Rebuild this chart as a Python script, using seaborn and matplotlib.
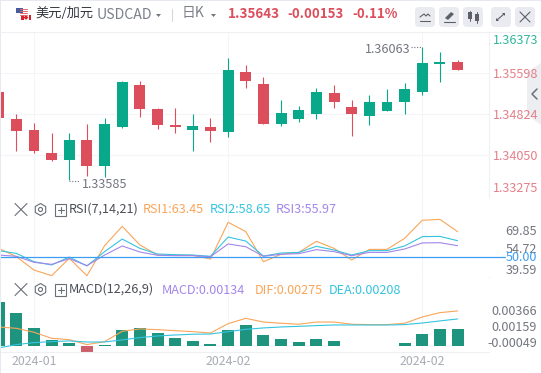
import matplotlib
matplotlib.use('Agg')
import matplotlib.pyplot as plt
import seaborn as sns
import pandas as pd
from matplotlib.patches import FancyBboxPatch, Rectangle, Polygon, RegularPolygon

# Daily USD/CAD candles
opens = [1.35246, 1.34736, 1.34528, 1.34094, 1.33962, 1.34339, 1.33849, 1.34585, 1.35378, 1.34925, 1.34623,
         1.34528, 1.34585, 1.34490, 1.35623, 1.35397, 1.34641, 1.34736, 1.34830, 1.35227, 1.34962, 1.34792,
         1.34887, 1.35057, 1.35246, 1.35780, 1.35812]
closes = [1.34755, 1.34509, 1.34132, 1.33962, 1.34339, 1.33849, 1.34641, 1.35434, 1.34925, 1.34623, 1.34585,
          1.34604, 1.34509, 1.35661, 1.35453, 1.34641, 1.34849, 1.34906, 1.35246, 1.35057, 1.34830, 1.35057,
          1.35057, 1.35302, 1.35793, 1.35812, 1.35661]
highs = [1.35300, 1.34830, 1.34660, 1.34472, 1.34472, 1.34641, 1.34755, 1.35453, 1.35453, 1.34944, 1.34944,
         1.34830, 1.34755, 1.35887, 1.35755, 1.35529, 1.35095, 1.34981, 1.35321, 1.35378, 1.35095, 1.35189,
         1.35302, 1.35416, 1.36090, 1.36001, 1.35850]
lows = [1.34700, 1.34132, 1.34094, 1.33943, 1.33585, 1.33660, 1.33641, 1.34566, 1.34774, 1.34547, 1.34472,
        1.34132, 1.34302, 1.34396, 1.35321, 1.34641, 1.34604, 1.34679, 1.34736, 1.34944, 1.34415, 1.34623,
        1.34887, 1.34830, 1.35189, 1.35434, 1.35661]

rsi1 = [56.6, 50.0, 39.4, 34.9, 48.7, 34.9, 58.7, 74.1, 59.3, 51.3, 51.1, 51.1, 48.1, 77.3, 69.9, 46.0, 51.9, 53.4,
        62.2, 56.6, 47.4, 55.8, 55.8, 64.6, 78.9, 79.6, 69.9]
rsi2 = [54.8, 52.6, 46.0, 43.4, 49.7, 42.6, 54.0, 64.0, 56.6, 52.1, 51.6, 51.3, 50.3, 65.6, 62.4, 50.5, 52.9, 53.4,
        58.2, 55.3, 51.3, 54.8, 54.8, 58.5, 65.9, 66.1, 62.7]
rsi3 = [51.3, 50.3, 45.5, 43.9, 48.4, 42.9, 51.3, 58.5, 53.7, 51.1, 50.8, 50.8, 50.0, 60.1, 57.9, 50.3, 51.9, 52.4,
        55.6, 54.0, 50.8, 53.4, 53.4, 56.1, 60.9, 61.1, 58.7]

macd = [0.00356, 0.00267, 0.00146, 0.00049, 0.00024, -0.00049, 0.00004, 0.00130, 0.00146, 0.00105, 0.00065, 0.00041,
        0.00016, 0.00130, 0.00170, 0.00089, 0.00057, 0.00032, 0.00057, 0.00041, 0.00003, 0.00003, -0.00003,
        0.00024, 0.00097, 0.00138, 0.00134]
dif = [0.00154, 0.00143, 0.00111, 0.00062, 0.00051, 0.00011, 0.00035, 0.00119, 0.00138, 0.00132, 0.00124, 0.00116,
       0.00105, 0.00181, 0.00224, 0.00194, 0.00184, 0.00176, 0.00194, 0.00194, 0.00176, 0.00173, 0.00173, 0.00184,
       0.00235, 0.00270, 0.00284]
dea = [-0.00016, 0.00011, 0.00027, 0.00035, 0.00041, 0.00032, 0.00032, 0.00049, 0.00068, 0.00081, 0.00089, 0.00095,
       0.00097, 0.00116, 0.00135, 0.00146, 0.00154, 0.00159, 0.00165, 0.00170, 0.00170, 0.00170, 0.00170, 0.00173,
       0.00186, 0.00203, 0.00219]

price_grid = [1.35598, 1.34824, 1.34050]
month_ticks = [2, 13, 24]
month_labels = ['2024-01', '2024-02', '2024-02']

GREEN = '#0aa88a'
RED = '#dd4e5c'
ORANGE = '#f9a65a'
CYAN = '#35c4e0'
PURPLE = '#a386ea'
BLUE = '#3d9df2'
GRID = '#f3f5f8'
GRAY = '#73767f'

sns.set_theme(style='white')
plt.rcParams['font.family'] = ['Noto Sans CJK SC', 'DejaVu Sans']

W, H = 541, 373
fig = plt.figure(figsize=(W / 100, H / 100), dpi=100)


def panel(top, bottom):
    return fig.add_axes([0, 1 - bottom / H, 489 / W, (bottom - top) / H])


ax = panel(32, 197)
ax_rsi = panel(197, 277)
ax_macd = panel(277, 352)

days = list(range(len(opens)))
df = pd.DataFrame({'day': days, 'open': opens, 'close': closes, 'high': highs, 'low': lows,
                   'rsi1': rsi1, 'rsi2': rsi2, 'rsi3': rsi3, 'macd': macd, 'dif': dif, 'dea': dea})

# candles
for _, row in df.iterrows():
    c = GREEN if row['close'] >= row['open'] else RED
    ax.vlines(row['day'], row['low'], row['high'], color=c, lw=0.8, zorder=2)
    ax.bar(row['day'], abs(row['close'] - row['open']), bottom=min(row['open'], row['close']),
           width=0.62, color=c, lw=0, zorder=3)
ax.set_ylim(1.33263, 1.36378)
ax.set_yticks(price_grid)

# RSI
sns.lineplot(data=df, x='day', y='rsi1', color=ORANGE, lw=0.8, ax=ax_rsi)
sns.lineplot(data=df, x='day', y='rsi2', color=CYAN, lw=0.8, ax=ax_rsi)
sns.lineplot(data=df, x='day', y='rsi3', color=PURPLE, lw=0.8, ax=ax_rsi)
ax_rsi.plot([-1, 28.7], [50, 50], color=BLUE, lw=0.9, clip_on=False)
ax_rsi.set_ylim(33.85, 97.4)

# MACD
df['side'] = ['up' if v >= 0 else 'down' for v in macd]
sns.barplot(data=df, x='day', y='macd', hue='side', palette={'up': GREEN, 'down': RED}, native_scale=True,
            dodge=False, legend=False, width=0.68, lw=0, ax=ax_macd)
sns.lineplot(data=df, x='day', y='dif', color=ORANGE, lw=0.8, ax=ax_macd)
sns.lineplot(data=df, x='day', y='dea', color=CYAN, lw=0.8, ax=ax_macd)
ax_macd.set_ylim(-0.00049, 0.00559)

for a in (ax, ax_rsi, ax_macd):
    a.set_xlim(0.074, 27.78)
    a.set_xlabel('')
    a.set_ylabel('')
    a.set_xticks(month_ticks)
    a.grid(True, color=GRID, lw=0.8)
    a.set_axisbelow(True)
    a.tick_params(length=0, labelbottom=False, labelleft=False)
    for s in a.spines.values():
        s.set_visible(False)
    a.spines['bottom'].set_visible(True)
    a.spines['bottom'].set_color('#eef0f4')
    a.spines['bottom'].set_linewidth(0.8)
ax.spines['right'].set_visible(True)
ax.spines['right'].set_color('#eef0f4')
ax.spines['right'].set_linewidth(0.8)
ax_rsi.set_yticks([])
ax_macd.set_yticks([])
ax_macd.set_xticks(month_ticks, month_labels)
ax_macd.tick_params(labelbottom=True, labelsize=8.9, labelcolor='#a9acb4', pad=2)

# pixel overlay for the toolbar and the labels
ov = fig.add_axes([0, 0, 1, 1], zorder=5)
ov.set_xlim(0, W)
ov.set_ylim(H, 0)
ov.axis('off')
ov.patch.set_alpha(0)


def label(x, y, s, color=GRAY, size=9.1, ha='left', **kw):
    ov.text(x, y, s, color=color, fontsize=size, ha=ha, va='center', **kw)


# window edges
ov.add_patch(Rectangle((0, 0), W, 1, color='#e6e9f2', lw=0))
ov.add_patch(Rectangle((0, 0), 1, H, color='#e6e9f2', lw=0))
ov.plot([0, W], [31.5, 31.5], color='#eef0f4', lw=0.8)

# flag
ov.add_patch(Rectangle((16, 8), 7, 5, color='#4a5a9c', lw=0))
for yy in (9, 11, 13, 15):
    ov.plot([20, 27], [yy, yy], color='#e26a72', lw=0.7)
ov.add_patch(Rectangle((21, 15), 2.5, 5, color='#d8222c', lw=0))
ov.add_patch(Rectangle((28.5, 15), 2.5, 5, color='#d8222c', lw=0))
ov.add_patch(RegularPolygon((26, 17.5), 4, radius=2.4, color='#d8222c', lw=0))

label(35, 13.5, '美元/加元', color='#33363d', size=9.5)
label(97, 15, 'USDCAD', color='#7c808a', size=10.2)
ov.add_patch(Polygon([[156, 14], [161, 14], [158.5, 17]], color=GRAY, lw=0))
ov.plot([172, 172], [9, 21], color='#d5d8de', lw=0.8)
label(182, 13.5, '日K', color='#7c808a', size=10)
ov.add_patch(Polygon([[211, 14], [216, 14], [213.5, 17]], color=GRAY, lw=0))
label(228, 14, '1.35643', color=RED, size=9.7, fontweight='bold')
label(287, 14, '-0.00153', color=RED, size=9.5, fontweight='bold')
label(352, 14, '-0.11%', color=RED, size=9.5, fontweight='bold')

# toolbar buttons
for bx in (415, 439, 463, 491, 515):
    ov.add_patch(FancyBboxPatch((bx, 7), 20, 20, boxstyle='round,pad=0,rounding_size=4', color='#e9ebf1', lw=0))
ov.plot([420, 424, 426, 428, 430], [17, 14, 16, 14, 16], color='#5c6068', lw=0.8)
ov.plot([420, 430], [21, 21], color='#5c6068', lw=0.8)
ov.add_patch(Polygon([[445, 18], [451, 12], [454, 14], [448, 20]], color='#5c6068', lw=0))
ov.plot([444, 455], [21.5, 21.5], color='#5c6068', lw=0.8)
ov.add_patch(Rectangle((468, 12), 4, 7, color='#5c6068', lw=0))
ov.plot([470, 470], [11, 21], color='#5c6068', lw=0.7)
ov.add_patch(Rectangle((475, 14), 4, 7, color='#5c6068', lw=0))
ov.plot([477, 477], [12, 23], color='#5c6068', lw=0.7)
ov.plot([497, 504], [20, 14], color='#5c6068', lw=0.8)
ov.add_patch(Polygon([[496, 21], [496, 18], [499, 21]], color='#5c6068', lw=0))
ov.add_patch(Polygon([[505, 13], [505, 16], [502, 13]], color='#5c6068', lw=0))
ov.plot([520, 530], [12, 22], color='#5c6068', lw=0.8)
ov.plot([520, 530], [22, 12], color='#5c6068', lw=0.8)

# price labels on the right
label(538, 40, '1.36373', color='#2fb79c', ha='right')
label(538, 75, '1.35598', color='#e57f89', ha='right')
label(538, 115.5, '1.34824', color='#e57f89', ha='right')
label(538, 157, '1.34050', color='#e57f89', ha='right')
label(538, 188, '1.33275', color='#e57f89', ha='right')

# side tab
ov.add_patch(Polygon([[541, 63], [527, 72], [527, 115], [541, 125]], color='#eceef2', lw=0, zorder=0))
ov.plot([537, 532, 537], [89, 94, 99], color='#6c7078', lw=1.1)

# extreme labels
label(82, 184, '1.33585', color=GRAY)
ov.plot([69, 80], [181, 181], color=GRAY, lw=0.8, ls=(0, (1, 1.5)))
label(365, 49.5, '1.36063', color=GRAY)
ov.plot([411, 422], [47, 47], color=GRAY, lw=0.8, ls=(0, (1, 1.5)))


def panel_head(y, name):
    ov.plot([15, 27], [y - 6, y + 6], color='#6a6e76', lw=0.8)
    ov.plot([15, 27], [y + 6, y - 6], color='#6a6e76', lw=0.8)
    ov.add_patch(RegularPolygon((40.5, y), 6, radius=6, fill=False, ec='#6a6e76', lw=0.8))
    ov.add_patch(plt.Circle((40.5, y), 2, fill=False, ec='#6a6e76', lw=0.8))
    ov.add_patch(Rectangle((55, y - 6), 11, 12, fill=False, ec='#6a6e76', lw=0.8))
    ov.plot([57.5, 63.5], [y, y], color='#6a6e76', lw=0.8)
    ov.plot([60.5, 60.5], [y - 3, y + 3], color='#6a6e76', lw=0.8)
    label(69, y, name, color='#4b4e56')


panel_head(209.5, 'RSI(7,14,21)')
label(143, 209.5, 'RSI1:63.45', color=ORANGE)
label(210, 209.5, 'RSI2:58.65', color=CYAN)
label(276, 209.5, 'RSI3:55.97', color=PURPLE)
label(537, 231.5, '69.85', ha='right')
label(537, 249.5, '54.72', ha='right')
label(537, 257.5, '50.00', color=BLUE, ha='right')
label(537, 270, '39.59', ha='right')

panel_head(289.5, 'MACD(12,26,9)')
label(162, 290, 'MACD:0.00134', color=PURPLE)
label(255, 290, 'DIF:0.00275', color=ORANGE)
label(329, 290, 'DEA:0.00208', color=CYAN)
label(537, 311.5, '0.00366', ha='right')
label(537, 327.5, '0.00159', ha='right')
label(537, 343.5, '-0.00049', ha='right')

fig.savefig('out.png', dpi=100)
